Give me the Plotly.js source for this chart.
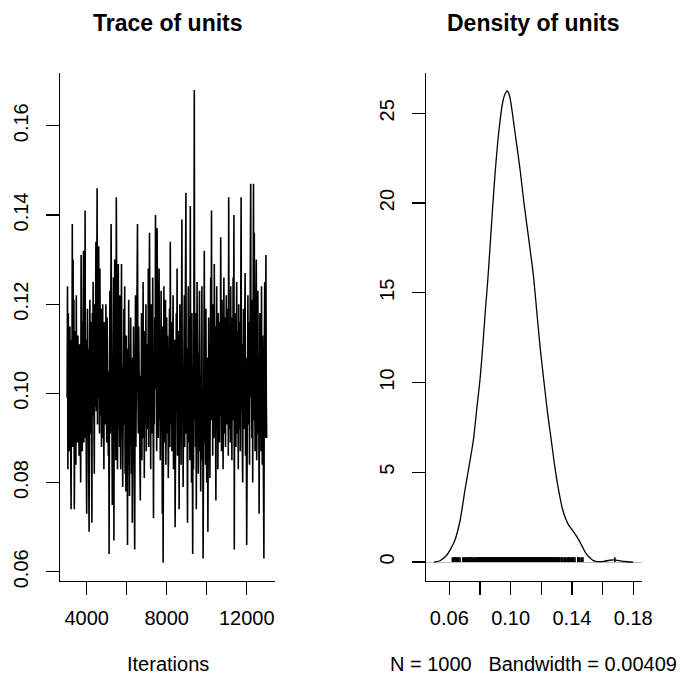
<!DOCTYPE html>
<html>
<head>
<meta charset="utf-8">
<script src="https://cdn.plot.ly/plotly-3.0.1.min.js"></script>
<style>
html, body { margin: 0; padding: 0; background: #ffffff; }
#chart { width: 681px; height: 677px; }
</style>
</head>
<body>
<div id="chart"></div>
<script>
// ---- data ----
const iterStart = 3020;
const iterStep = 20;

const units = [
  0.099, 0.124, 0.083, 0.118, 0.092, 0.110, 0.087, 0.115, 0.101, 0.080, 0.074, 0.112, 0.096, 0.138, 0.088, 0.130, 0.094, 0.121, 0.074, 0.108,
  0.091, 0.114, 0.084, 0.122, 0.097, 0.106, 0.089, 0.113, 0.093, 0.102, 0.086, 0.111, 0.098, 0.090, 0.080, 0.131, 0.095, 0.104, 0.087, 0.116,
  0.098, 0.132, 0.089, 0.108, 0.096, 0.141, 0.090, 0.112, 0.085, 0.073, 0.103, 0.119, 0.094, 0.110, 0.082, 0.069, 0.107, 0.121, 0.091, 0.116,
  0.100, 0.088, 0.071, 0.118, 0.095, 0.125, 0.092, 0.109, 0.082, 0.120, 0.097, 0.113, 0.134, 0.096, 0.118, 0.146, 0.093, 0.127, 0.099, 0.133,
  0.110, 0.091, 0.128, 0.104, 0.095, 0.119, 0.088, 0.114, 0.101, 0.120, 0.090, 0.107, 0.083, 0.116, 0.098, 0.112, 0.093, 0.120, 0.102, 0.089,
  0.117, 0.094, 0.110, 0.086, 0.105, 0.064, 0.099, 0.123, 0.091, 0.113, 0.138, 0.088, 0.119, 0.075, 0.108, 0.094, 0.126, 0.067, 0.103, 0.130,
  0.096, 0.112, 0.085, 0.144, 0.098, 0.117, 0.083, 0.109, 0.129, 0.092, 0.114, 0.088, 0.122, 0.097, 0.083, 0.111, 0.129, 0.090, 0.106, 0.079,
  0.101, 0.087, 0.119, 0.093, 0.124, 0.082, 0.105, 0.078, 0.113, 0.091, 0.097, 0.066, 0.110, 0.084, 0.121, 0.094, 0.077, 0.103, 0.089, 0.117,
  0.095, 0.082, 0.108, 0.071, 0.100, 0.086, 0.115, 0.092, 0.078, 0.065, 0.099, 0.122, 0.088, 0.109, 0.095, 0.124, 0.138, 0.102, 0.091, 0.115,
  0.098, 0.110, 0.086, 0.076, 0.104, 0.092, 0.118, 0.085, 0.112, 0.097, 0.125, 0.090, 0.106, 0.081, 0.114, 0.099, 0.093, 0.120, 0.087, 0.111,
  0.096, 0.108, 0.092, 0.128, 0.088, 0.115, 0.136, 0.094, 0.105, 0.083, 0.120, 0.098, 0.112, 0.091, 0.126, 0.103, 0.072, 0.109, 0.093, 0.117,
  0.101, 0.140, 0.095, 0.113, 0.087, 0.137, 0.099, 0.118, 0.090, 0.108, 0.128, 0.094, 0.111, 0.085, 0.104, 0.123, 0.092, 0.107, 0.073, 0.115,
  0.062, 0.098, 0.124, 0.089, 0.110, 0.096, 0.121, 0.084, 0.105, 0.117, 0.091, 0.113, 0.099, 0.081, 0.108, 0.095, 0.119, 0.088, 0.134, 0.102,
  0.093, 0.116, 0.087, 0.110, 0.098, 0.122, 0.083, 0.105, 0.094, 0.112, 0.070, 0.101, 0.089, 0.118, 0.096, 0.128, 0.086, 0.107, 0.092, 0.114,
  0.074, 0.103, 0.120, 0.090, 0.109, 0.084, 0.116, 0.139, 0.095, 0.106, 0.079, 0.113, 0.097, 0.122, 0.088, 0.104, 0.118, 0.145, 0.091, 0.110,
  0.096, 0.071, 0.108, 0.124, 0.089, 0.117, 0.101, 0.085, 0.142, 0.093, 0.111, 0.080, 0.118, 0.098, 0.064, 0.106, 0.083, 0.120, 0.168, 0.094,
  0.105, 0.088, 0.118, 0.074, 0.102, 0.125, 0.091, 0.109, 0.082, 0.113, 0.096, 0.123, 0.087, 0.104, 0.078, 0.110, 0.093, 0.124, 0.085, 0.100,
  0.063, 0.097, 0.114, 0.132, 0.089, 0.106, 0.084, 0.119, 0.093, 0.080, 0.108, 0.095, 0.069, 0.101, 0.117, 0.088, 0.110, 0.081, 0.103, 0.126,
  0.094, 0.141, 0.098, 0.112, 0.086, 0.120, 0.101, 0.090, 0.129, 0.096, 0.115, 0.087, 0.076, 0.107, 0.124, 0.092, 0.111, 0.083, 0.118, 0.099,
  0.108, 0.089, 0.116, 0.095, 0.135, 0.102, 0.087, 0.121, 0.097, 0.110, 0.083, 0.113, 0.126, 0.091, 0.105, 0.117, 0.088, 0.100, 0.122, 0.093,
  0.110, 0.096, 0.119, 0.086, 0.144, 0.101, 0.092, 0.115, 0.089, 0.124, 0.098, 0.108, 0.085, 0.117, 0.094, 0.126, 0.103, 0.140, 0.065, 0.112,
  0.097, 0.118, 0.088, 0.109, 0.125, 0.091, 0.114, 0.099, 0.083, 0.120, 0.102, 0.092, 0.116, 0.087, 0.106, 0.144, 0.096, 0.111, 0.089, 0.080,
  0.104, 0.119, 0.092, 0.113, 0.098, 0.127, 0.086, 0.108, 0.095, 0.066, 0.110, 0.089, 0.122, 0.101, 0.093, 0.116, 0.084, 0.106, 0.128, 0.147,
  0.099, 0.113, 0.090, 0.121, 0.080, 0.109, 0.147, 0.094, 0.136, 0.103, 0.087, 0.118, 0.096, 0.130, 0.085, 0.112, 0.100, 0.123, 0.091, 0.107,
  0.073, 0.104, 0.118, 0.092, 0.110, 0.087, 0.124, 0.099, 0.084, 0.113, 0.095, 0.079, 0.063, 0.106, 0.125, 0.090, 0.112, 0.131, 0.098, 0.090
];

const densX = [0.0500, 0.0539, 0.0580, 0.0610, 0.0637, 0.0670, 0.0702, 0.0730, 0.0757, 0.0780,
               0.0800, 0.0818, 0.0835, 0.0851, 0.0866, 0.0883, 0.0900, 0.0922, 0.0948, 0.0965,
               0.0978, 0.0992, 0.1005, 0.1029, 0.1061, 0.1087, 0.1118, 0.1148, 0.1170, 0.1192,
               0.1218, 0.1244, 0.1265, 0.1290, 0.1311, 0.1340, 0.1376, 0.1410, 0.1440, 0.1465,
               0.1490, 0.1515, 0.1540, 0.1570, 0.1610, 0.1645, 0.1675, 0.1705, 0.1740, 0.1800];
const densY = [0.00, 0.07, 0.35, 0.75, 1.23, 2.30, 4.01, 5.40, 6.80, 8.60,
               10.14, 12.00, 14.00, 15.71, 17.60, 19.80, 21.80, 23.90, 25.60, 26.10,
               26.24, 26.00, 25.40, 23.90, 21.90, 20.00, 18.00, 16.00, 14.00, 12.00,
               10.00, 8.10, 6.80, 5.20, 4.10, 2.90, 2.10, 1.70, 1.30, 0.90,
               0.50, 0.25, 0.08, 0.02, 0.04, 0.10, 0.12, 0.08, 0.03, 0.00];

const traceXTicks = [4000, 6000, 8000, 10000, 12000];
const traceXLabels = ["4000", "", "8000", "", "12000"];
const traceYTicks = [0.06, 0.08, 0.10, 0.12, 0.14, 0.16];
const traceYLabels = ["0.06", "0.08", "0.10", "0.12", "0.14", "0.16"];
const densXTicks = [0.06, 0.08, 0.10, 0.12, 0.14, 0.16, 0.18];
const densXLabels = ["0.06", "", "0.10", "", "0.14", "", "0.18"];
const densYTicks = [0, 5, 10, 15, 20, 25];
const densYLabels = ["0", "5", "10", "15", "20", "25"];

const titleLeft = "Trace of units";
const titleRight = "Density of units";
const xLabelLeft = "Iterations";
const xLabelRight = "N = 1000   Bandwidth = 0.00409";

// ---- build traces ----
const iterations = units.map((v, i) => iterStart + i * iterStep);
const rugH = Math.max(...densY) / 100;
const rugX = [], rugY = [];
units.forEach(v => { rugX.push(v, v, null); rugY.push(0, rugH, null); });

const FONT = "Liberation Sans, Arial, Helvetica, sans-serif";

const data = [
  { x: iterations, y: units, type: "scatter", mode: "lines",
    line: { color: "#000000", width: 1.6 }, xaxis: "x", yaxis: "y", hoverinfo: "skip" },
  { x: densX, y: densY, type: "scatter", mode: "lines",
    line: { color: "#000000", width: 1.3, shape: "spline", smoothing: 0.8 },
    xaxis: "x2", yaxis: "y2", hoverinfo: "skip" },
  { x: rugX, y: rugY, type: "scatter", mode: "lines",
    line: { color: "#000000", width: 1.6 }, xaxis: "x2", yaxis: "y2", hoverinfo: "skip" }
];

const axisCommon = {
  showline: true, linecolor: "#000000", linewidth: 1.2, mirror: false,
  ticks: "outside", ticklen: 13, tickwidth: 1.2, tickcolor: "#000000",
  showgrid: false, zeroline: false, fixedrange: true,
  tickfont: { family: FONT, size: 20, color: "#000000" },
  tickmode: "array"
};

const yTop = 1 - 72.7 / 677, yBot = 1 - 580.7 / 677;

const layout = {
  width: 681, height: 677,
  margin: { l: 0, r: 0, t: 0, b: 0, pad: 0 },
  paper_bgcolor: "#ffffff", plot_bgcolor: "#ffffff",
  showlegend: false, hovermode: false,
  font: { family: FONT, color: "#000000" },
  xaxis: Object.assign({}, axisCommon, {
    domain: [60 / 681, 275 / 681], range: [2665, 13415],
    tickvals: traceXTicks, ticktext: traceXLabels, anchor: "y",
    ticklabelstandoff: 6
  }),
  yaxis: Object.assign({}, axisCommon, {
    domain: [yBot, yTop], range: [0.058, 0.1719],
    tickvals: traceYTicks, ticktext: traceYLabels, anchor: "x",
    tickangle: -90, ticklabelstandoff: 10
  }),
  xaxis2: Object.assign({}, axisCommon, {
    domain: [425.7 / 681, 641.7 / 681], range: [0.0446, 0.1855],
    tickvals: densXTicks, ticktext: densXLabels, anchor: "y2",
    ticklabelstandoff: 6
  }),
  yaxis2: Object.assign({}, axisCommon, {
    domain: [yBot, yTop], range: [-1.04, 27.26],
    tickvals: densYTicks, ticktext: densYLabels, anchor: "x2",
    tickangle: -90, ticklabelstandoff: 10,
    zeroline: true, zerolinecolor: "#bebebe", zerolinewidth: 1
  }),
  annotations: [
    { text: "<b>" + titleLeft + "</b>", xref: "paper", yref: "paper",
      x: 167.5 / 681, y: 1 - 23 / 677, xanchor: "center", yanchor: "middle",
      showarrow: false, font: { family: FONT, size: 23, color: "#000000" } },
    { text: "<b>" + titleRight + "</b>", xref: "paper", yref: "paper",
      x: 533.7 / 681, y: 1 - 23 / 677, xanchor: "center", yanchor: "middle",
      showarrow: false, font: { family: FONT, size: 23, color: "#000000" } },
    { text: xLabelLeft, xref: "paper", yref: "paper",
      x: 167.5 / 681, y: 1 - 664 / 677, xanchor: "center", yanchor: "middle",
      showarrow: false, font: { family: FONT, size: 20, color: "#000000" } },
    { text: xLabelRight, xref: "paper", yref: "paper",
      x: 533.7 / 681, y: 1 - 664 / 677, xanchor: "center", yanchor: "middle",
      showarrow: false, font: { family: FONT, size: 20, color: "#000000" } }
  ]
};

Plotly.newPlot("chart", data, layout, { displayModeBar: false, staticPlot: true });
</script>
</body>
</html>
